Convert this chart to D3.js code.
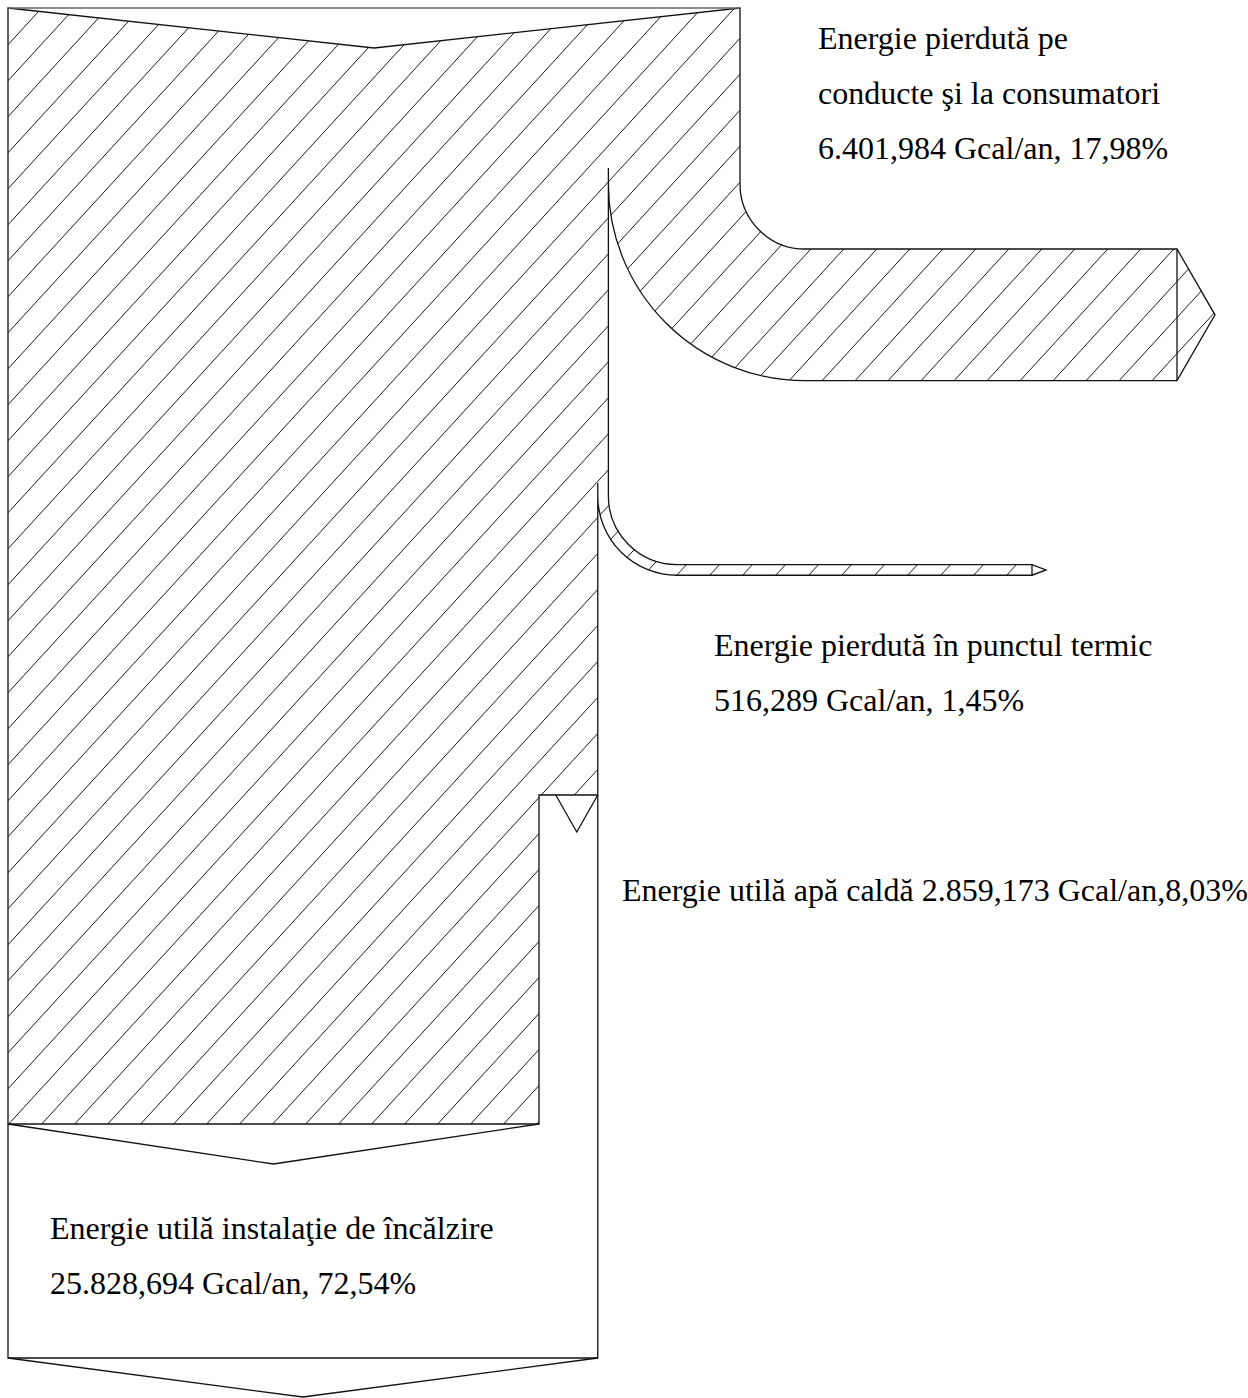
<!DOCTYPE html>
<html>
<head>
<meta charset="utf-8">
<script src="https://cdn.jsdelivr.net/npm/d3@7"></script>
<style>
  html, body { margin: 0; padding: 0; background: #fff; }
  svg { display: block; }
  text { font-family: "Liberation Serif", "Times New Roman", serif; font-size: 32px; fill: #000; }
</style>
</head>
<body>
<svg id="chart" width="1248" height="1398"></svg>
<script>
// Heat balance of the district heating system (Gcal/an and share of input)
const flowNames = [
  "Energie pierdută pe conducte şi la consumatori",
  "Energie pierdută în punctul termic",
  "Energie utilă apă caldă",
  "Energie utilă instalaţie de încălzire"
];
const flowEnergy = [6401.984, 516.289, 2859.173, 25828.694];   // Gcal/an
const flowShare = [17.98, 1.45, 8.03, 72.54];                   // % of input
const totalShare = 100;

const svg = d3.select("#chart");

// Romanian number format: "." thousands, "," decimals
const ro = d3.formatLocale({ decimal: ",", thousands: ".", grouping: [3], currency: ["", " lei"] });
const fmtE = ro.format(",.3f");
const fmtP = ro.format(".2f");

// width scale: share of energy -> pixels across the input band
const xLeft = 8, yTop = 8;
const w = d3.scaleLinear().domain([0, totalShare]).range([0, 732]);

const xIn = xLeft + w(totalShare);                                  // right edge of input
const xAfterPipes = xLeft + w(totalShare - flowShare[0]);           // after pipe losses
const xAfterPoint = xLeft + w(totalShare - flowShare[0] - flowShare[1]);
const xHeat = xLeft + w(flowShare[3]);                              // heating column edge
const notch = 40;

// pipe-loss branch geometry (concentric arcs)
const b1 = { cx: 805, cy: 184 };
const b1r1 = b1.cx - xIn, b1r2 = b1.cx - xAfterPipes;
const b1Top = b1.cy + b1r1, b1Bot = b1.cy + b1r2, b1Mid = (b1Top + b1Bot) / 2;
const b1End = 1177, b1Tip = 1215;

// thermal point loss branch
const b2 = { cx: 677, cy: 496 };
const b2r1 = b2.cx - xAfterPipes, b2r2 = b2.cx - xAfterPoint;
const b2Top = b2.cy + b2r1, b2Bot = b2.cy + b2r2, b2Mid = (b2Top + b2Bot) / 2;
const b2End = 1032, b2Tip = 1046;

// hot water split and bottom of hatched body
const yWater = 795, yBody = 1124, yBox = 1358;

const hatchPath = d3.path();
hatchPath.moveTo(xLeft, yTop);
hatchPath.lineTo((xLeft + xIn) / 2, yTop + notch);
hatchPath.lineTo(xIn, yTop);
hatchPath.lineTo(xIn, b1.cy);
hatchPath.arc(b1.cx, b1.cy, b1r1, Math.PI, Math.PI / 2, true);
hatchPath.lineTo(b1End, b1Top);
hatchPath.lineTo(b1Tip, b1Mid);
hatchPath.lineTo(b1End, b1Bot);
hatchPath.lineTo(b1.cx, b1Bot);
hatchPath.arc(b1.cx, b1.cy, b1r2, Math.PI / 2, Math.PI, false);
hatchPath.lineTo(xAfterPipes, b2.cy);
hatchPath.arc(b2.cx, b2.cy, b2r1, Math.PI, Math.PI / 2, true);
hatchPath.lineTo(b2End, b2Top);
hatchPath.lineTo(b2Tip, b2Mid);
hatchPath.lineTo(b2End, b2Bot);
hatchPath.lineTo(b2.cx, b2Bot);
hatchPath.arc(b2.cx, b2.cy, b2r2, Math.PI / 2, Math.PI, false);
hatchPath.lineTo(xAfterPoint, yWater);
hatchPath.lineTo(xHeat, yWater);
hatchPath.lineTo(xHeat, yBody);
hatchPath.lineTo(xLeft, yBody);
hatchPath.closePath();

svg.append("clipPath").attr("id", "hatchClip")
  .append("path").attr("d", hatchPath.toString());

// diagonal hatching clipped to the input body and loss branches
const slope = 36 / 33, step = 36, phase = 17.5;
const hatchLines = d3.range(0, 80).map(n => phase + n * step);
svg.append("g").attr("clip-path", "url(#hatchClip)")
  .selectAll("line").data(hatchLines).join("line")
  .attr("x1", 0).attr("y1", c => c)
  .attr("x2", 1248).attr("y2", c => c - slope * 1248)
  .attr("stroke", "#1a1a1a").attr("stroke-width", 1);

const outline = svg.append("g").attr("fill", "none").attr("stroke", "#111").attr("stroke-width", 1.3);

outline.append("path").attr("d", hatchPath.toString());

// top edge of the input
outline.append("line").attr("x1", xLeft).attr("y1", yTop).attr("x2", xIn).attr("y2", yTop)
  .attr("stroke", "#666").attr("stroke-width", 1.6);

// arrow bases of the loss branches
outline.append("line").attr("x1", b1End).attr("y1", b1Top).attr("x2", b1End).attr("y2", b1Bot);
outline.append("line").attr("x1", b2End).attr("y1", b2Top).attr("x2", b2End).attr("y2", b2Bot);

// inner edges of the body above each branch start
outline.append("line").attr("x1", xAfterPipes).attr("y1", 168).attr("x2", xAfterPipes).attr("y2", b1.cy);
outline.append("line").attr("x1", xAfterPoint).attr("y1", 483).attr("x2", xAfterPoint).attr("y2", b2.cy);

// hot water notch
outline.append("path").attr("d", d3.line()([
  [xAfterPoint - 42, yWater], [xAfterPoint - 21, yWater + 37], [xAfterPoint, yWater]
]));

// useful energy box with arrow
outline.append("path").attr("d", d3.line()([
  [xLeft, yBody], [(xLeft + xHeat) / 2, yBody + notch], [xHeat, yBody]
]));
outline.append("path").attr("d", d3.line()([
  [xLeft, yBody], [xLeft, yBox], [xAfterPoint, yBox], [xAfterPoint, yWater]
]));
outline.append("path").attr("d", d3.line()([
  [xLeft, yBox], [(xLeft + xAfterPoint) / 2, yBox + 39], [xAfterPoint, yBox]
]));

// labels
const labels = [
  { x: 818, y: 49, lines: ["Energie pierdută pe", "conducte şi la consumatori",
      `${fmtE(flowEnergy[0])} Gcal/an, ${fmtP(flowShare[0])}%`] },
  { x: 714, y: 656, lines: [flowNames[1], `${fmtE(flowEnergy[1])} Gcal/an, ${fmtP(flowShare[1])}%`] },
  { x: 622, y: 901, lines: [`${flowNames[2]} ${fmtE(flowEnergy[2])} Gcal/an,${fmtP(flowShare[2])}%`] },
  { x: 50, y: 1239, lines: [flowNames[3], `${fmtE(flowEnergy[3])} Gcal/an, ${fmtP(flowShare[3])}%`] }
];
const lineGap = 55;
svg.append("g").selectAll("text").data(labels).join("text")
  .attr("x", d => d.x).attr("y", d => d.y)
  .selectAll("tspan").data(d => d.lines.map((t, i) => ({ t, i, x: d.x, y: d.y }))).join("tspan")
  .attr("x", d => d.x).attr("y", d => d.y + d.i * lineGap)
  .text(d => d.t);
</script>
</body>
</html>
